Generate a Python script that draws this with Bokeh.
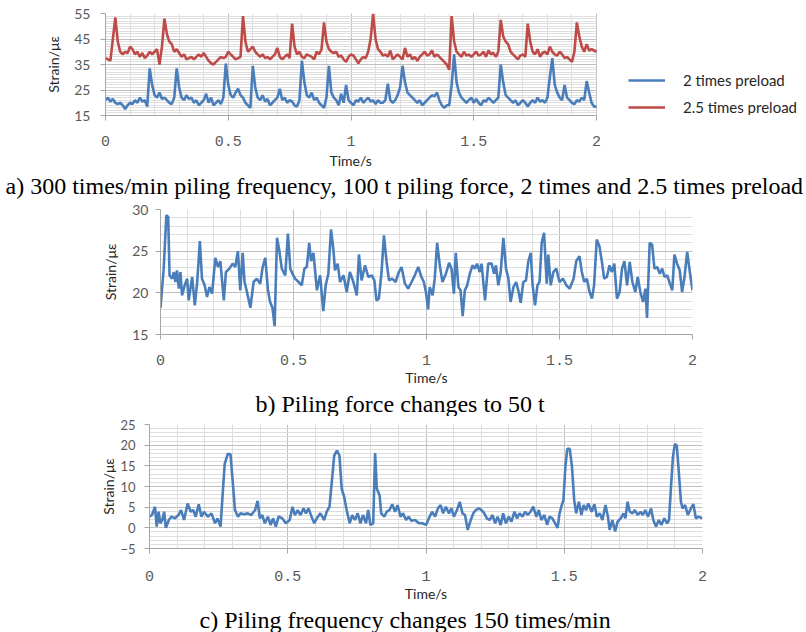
import numpy as np
from bokeh.plotting import figure
from bokeh.models import Range1d, FixedTicker, Title, Legend, LegendItem, BoxAnnotation
from bokeh.embed import file_html
from bokeh.resources import INLINE

# ---------------- data ----------------
time_a = np.round(np.linspace(0, 2, 201), 2)

strain_2x_preload = [
    21, 22, 20.5, 21.5, 20, 19.5, 20, 19, 17.5, 19,
    20, 19.5, 21, 20, 22, 20.5, 21, 18.5, 33.5, 27,
    23, 22, 24, 21.5, 22, 21, 20, 19.5, 22, 33.5,
    26, 22, 21, 23, 21.5, 22, 20, 21, 19, 20,
    21, 23.5, 20, 22, 19, 20, 21, 19.5, 22, 35.4,
    27, 23, 22, 24, 25.5, 23, 22, 20, 19, 18,
    34.5, 26, 22, 21, 23, 20.5, 21.5, 19, 20, 21,
    22, 25.5, 21, 22, 20, 21, 20.5, 19, 18.5, 21,
    36.5, 28, 23, 22, 24, 21, 22, 20, 19, 18,
    22, 34.5, 24, 22, 21, 19, 23.5, 20, 27, 21,
    20, 19, 21, 20.5, 22, 20, 21, 22, 20.5, 21,
    19.5, 21, 20, 20, 21, 27.5, 21, 20, 21, 23,
    26, 34.5, 28, 24, 23, 22, 21, 20, 21, 19,
    20, 21, 22, 23, 22.5, 24, 21, 19, 18, 19,
    19, 27, 39, 28, 24, 22, 21, 20, 21, 22,
    20, 21.5, 20, 19, 21, 20.5, 22, 21, 20, 21,
    22, 35, 28, 23, 22, 21, 20, 21, 19, 20,
    21, 20, 18.5, 20, 21, 20, 22, 20.5, 21, 20,
    22, 30, 37.5, 27, 24, 22, 21, 27, 22, 21,
    20, 19.5, 21, 20.5, 22, 21, 28.5, 24, 20, 18.5, 18.5,
]

strain_25x_preload = [
    37.5, 37, 36.5, 45, 53.5, 44, 40, 39, 40, 39.5,
    42, 41, 39, 40, 38, 39.5, 37.5, 38.5, 40, 39,
    40, 41, 35, 42, 53, 47, 44, 43, 40, 41,
    39.5, 38, 39, 37, 37.5, 38, 37, 38, 39, 38,
    39.5, 38, 36.5, 35.5, 35, 36, 37, 38, 37.5, 38,
    40, 39, 38, 37, 37.5, 38, 54, 44, 40, 41,
    42, 40, 39, 38, 39, 37.5, 38, 37, 38, 39,
    41.5, 38, 37, 38, 39, 37.5, 51, 42, 39, 40,
    38, 37.5, 39, 38.5, 38, 37, 40, 39, 41, 51.5,
    44, 41, 40, 39.5, 40, 38, 38.5, 37, 36, 38,
    39, 38.5, 37, 35.5, 37, 38, 37.5, 40, 45, 55,
    45, 41, 40, 38.5, 39, 38, 40.5, 37, 38, 39,
    38, 37, 41.5, 38, 39, 37, 38, 36.5, 38, 39,
    40, 38.5, 39, 40.5, 38, 39, 38, 37, 36, 35,
    33, 54, 44, 40, 39, 38, 40, 38.5, 39, 38,
    39, 40, 38.5, 39, 40, 38, 40.5, 39, 39.5, 38,
    40, 52.5, 46, 44, 43, 40, 39, 38, 37, 38.5,
    39, 38, 51, 44, 40, 39, 41, 38, 39.5, 40,
    39, 42, 40, 39, 38.5, 40, 39, 37.5, 38, 37,
    36, 40, 51.5, 46, 42, 40, 43, 40.5, 41, 40.5, 40,
]

time_b = [
    0.000, 0.012, 0.022, 0.029, 0.034, 0.044, 0.050, 0.056, 0.062, 0.069,
    0.075, 0.081, 0.091, 0.100, 0.106, 0.119, 0.129, 0.138, 0.148, 0.156,
    0.166, 0.175, 0.184, 0.194, 0.206, 0.216, 0.225, 0.238, 0.246, 0.259,
    0.271, 0.281, 0.291, 0.300, 0.309, 0.316, 0.325, 0.338, 0.350, 0.362,
    0.375, 0.384, 0.394, 0.404, 0.412, 0.421, 0.429, 0.438, 0.446, 0.456,
    0.469, 0.479, 0.488, 0.496, 0.506, 0.519, 0.531, 0.541, 0.550, 0.559,
    0.566, 0.575, 0.588, 0.600, 0.612, 0.621, 0.631, 0.641, 0.650, 0.656,
    0.666, 0.675, 0.688, 0.700, 0.712, 0.725, 0.738, 0.746, 0.756, 0.769,
    0.781, 0.794, 0.804, 0.812, 0.821, 0.831, 0.840, 0.850, 0.859, 0.871,
    0.884, 0.896, 0.906, 0.919, 0.931, 0.944, 0.956, 0.969, 0.981, 0.990,
    0.998, 1.006, 1.012, 1.023, 1.031, 1.040, 1.050, 1.060, 1.073, 1.085,
    1.094, 1.103, 1.110, 1.120, 1.128, 1.136, 1.144, 1.153, 1.163, 1.173,
    1.182, 1.190, 1.200, 1.207, 1.220, 1.232, 1.245, 1.254, 1.261, 1.270,
    1.279, 1.289, 1.299, 1.308, 1.316, 1.327, 1.337, 1.345, 1.354, 1.364,
    1.374, 1.383, 1.392, 1.399, 1.408, 1.417, 1.425, 1.433, 1.442, 1.452,
    1.458, 1.467, 1.477, 1.488, 1.500, 1.513, 1.526, 1.538, 1.553, 1.563,
    1.575, 1.584, 1.593, 1.603, 1.613, 1.622, 1.630, 1.640, 1.650, 1.659,
    1.668, 1.678, 1.688, 1.697, 1.706, 1.716, 1.726, 1.735, 1.744, 1.754,
    1.764, 1.774, 1.785, 1.794, 1.804, 1.814, 1.823, 1.829, 1.839, 1.848,
    1.857, 1.867, 1.877, 1.886, 1.895, 1.905, 1.915, 1.924, 1.932, 1.942,
    1.952, 1.961, 1.970, 1.980, 1.990, 2.000,
]

strain_b = [
    18.2, 22.9, 29.3, 29.1, 22.1, 21.7, 22.5, 21.3, 22.7, 20.5,
    22.5, 19.7, 20.9, 21.7, 19.1, 21.9, 18.5, 21.3, 26.2, 21.7,
    20.9, 19.5, 20.7, 19.9, 24.2, 23.1, 23.8, 19.1, 22.5, 22.9,
    23.5, 23.1, 25.0, 20.3, 24.8, 21.3, 20.1, 18.2, 21.3, 21.7,
    21.1, 23.1, 24.2, 20.3, 18.9, 18.2, 16.0, 26.6, 25.2, 22.9,
    22.1, 27.1, 22.9, 22.3, 21.7, 21.3, 20.9, 22.9, 23.1, 26.0,
    23.8, 24.8, 20.3, 22.1, 17.8, 20.9, 22.3, 27.6, 25.2, 22.7,
    23.5, 21.3, 22.1, 20.1, 22.5, 21.3, 19.7, 24.6, 21.5, 23.3,
    21.9, 22.1, 21.5, 19.1, 19.3, 22.5, 26.9, 23.7, 21.5, 21.7,
    21.3, 22.5, 23.1, 21.1, 20.5, 21.3, 22.1, 23.1, 21.9, 21.3,
    20.1, 18.0, 20.7, 19.7, 21.7, 26.0, 23.3, 21.3, 22.3, 23.6,
    22.9, 19.9, 24.8, 20.7, 20.3, 17.2, 20.3, 20.9, 22.3, 23.3,
    22.9, 23.5, 22.5, 23.5, 19.1, 23.5, 23.5, 22.3, 23.3, 20.9,
    22.5, 26.6, 22.9, 21.7, 18.9, 20.7, 21.3, 20.3, 18.8, 21.3,
    21.5, 23.8, 24.8, 20.9, 18.5, 20.9, 21.3, 26.0, 27.2, 21.1,
    24.6, 20.9, 22.5, 22.9, 21.3, 21.7, 20.9, 20.5, 21.7, 23.8,
    24.4, 22.5, 21.3, 21.7, 20.1, 19.3, 20.9, 26.4, 25.6, 23.8,
    21.7, 21.9, 23.3, 22.5, 23.5, 19.3, 20.1, 22.9, 23.8, 20.9,
    23.7, 21.3, 20.1, 21.9, 20.1, 18.9, 20.5, 17.0, 26.0, 25.8,
    22.9, 23.1, 22.3, 22.9, 21.9, 22.1, 21.1, 20.3, 24.6, 23.5,
    22.7, 20.1, 21.9, 24.9, 22.5, 20.3,
]

time_c = [
    0.000, 0.009, 0.020, 0.026, 0.033, 0.039, 0.046, 0.053, 0.059, 0.070,
    0.079, 0.092, 0.105, 0.114, 0.125, 0.138, 0.149, 0.158, 0.167, 0.178,
    0.188, 0.197, 0.211, 0.224, 0.237, 0.246, 0.257, 0.264, 0.272, 0.283,
    0.293, 0.303, 0.309, 0.320, 0.329, 0.342, 0.355, 0.368, 0.382, 0.391,
    0.399, 0.408, 0.417, 0.428, 0.438, 0.447, 0.457, 0.467, 0.480, 0.493,
    0.507, 0.517, 0.526, 0.536, 0.546, 0.557, 0.566, 0.575, 0.586, 0.596,
    0.605, 0.618, 0.632, 0.641, 0.651, 0.661, 0.668, 0.678, 0.687, 0.695,
    0.704, 0.713, 0.724, 0.733, 0.743, 0.753, 0.763, 0.772, 0.783, 0.791,
    0.799, 0.809, 0.816, 0.822, 0.832, 0.838, 0.849, 0.858, 0.868, 0.878,
    0.888, 0.897, 0.908, 0.917, 0.928, 0.937, 0.947, 0.961, 0.974, 0.987,
    1.000, 1.013, 1.022, 1.033, 1.043, 1.053, 1.062, 1.072, 1.083, 1.092,
    1.101, 1.112, 1.122, 1.132, 1.141, 1.151, 1.162, 1.171, 1.180, 1.191,
    1.201, 1.211, 1.220, 1.230, 1.241, 1.250, 1.259, 1.270, 1.279, 1.289,
    1.299, 1.309, 1.320, 1.329, 1.338, 1.349, 1.359, 1.368, 1.378, 1.388,
    1.399, 1.408, 1.417, 1.428, 1.438, 1.447, 1.457, 1.467, 1.476, 1.483,
    1.491, 1.497, 1.504, 1.511, 1.520, 1.528, 1.536, 1.543, 1.553, 1.562,
    1.570, 1.579, 1.587, 1.599, 1.609, 1.618, 1.628, 1.638, 1.649, 1.658,
    1.664, 1.674, 1.684, 1.693, 1.704, 1.714, 1.721, 1.729, 1.737, 1.747,
    1.755, 1.766, 1.776, 1.784, 1.793, 1.803, 1.814, 1.822, 1.832, 1.842,
    1.851, 1.862, 1.872, 1.879, 1.886, 1.893, 1.900, 1.907, 1.913, 1.922,
    1.928, 1.937, 1.947, 1.958, 1.967, 1.976, 1.986, 2.000,
]

strain_c = [
    2.7, 3.1, 5.1, 0.3, 3.9, 1.1, 1.9, 3.9, 0.0, 1.9,
    2.7, 2.3, 3.1, 4.3, 1.9, 5.9, 3.9, 4.3, 2.7, 5.7,
    2.7, 3.9, 2.7, 3.5, 1.1, 2.3, 0.3, 7.5, 15.5, 17.9,
    17.8, 9.5, 4.3, 2.7, 3.5, 3.3, 3.5, 3.1, 4.3, 6.5,
    2.3, 3.1, 1.1, 2.7, 0.7, 2.3, 0.3, 2.8, 2.3, 1.1,
    1.9, 5.1, 3.1, 4.3, 3.1, 4.7, 3.5, 4.7, 2.7, 1.1,
    2.3, 3.5, 1.9, 3.9, 5.1, 12.3, 17.5, 18.7, 17.5, 9.5,
    7.5, 4.3, 1.1, 3.1, 1.9, 3.5, 1.1, 3.1, 1.1, 4.3,
    0.7, 1.1, 18.1, 9.5, 7.9, 3.5, 2.7, 3.9, 4.3, 5.7,
    3.9, 5.5, 2.7, 3.5, 1.9, 2.7, 1.7, 1.9, 1.1, 1.1,
    0.7, 2.7, 3.9, 2.7, 4.7, 5.5, 3.5, 5.1, 3.5, 4.7,
    2.7, 4.3, 6.3, 3.5, 3.1, -0.5, 1.9, 3.5, 4.3, 4.7,
    4.3, 3.5, 2.3, 1.9, 3.1, 1.1, 2.7, 0.7, 3.5, 1.1,
    2.7, 1.5, 3.9, 2.3, 3.5, 2.7, 3.9, 3.1, 3.9, 5.1,
    2.7, 4.3, 1.9, 3.1, 0.7, 2.7, 2.3, 1.1, 0.0, 3.5,
    5.5, 6.7, 14.7, 19.1, 19.1, 14.7, 6.7, 3.5, 6.3, 3.1,
    5.5, 4.3, 5.9, 3.9, 5.7, 2.7, 3.5, 1.9, 5.5, 2.7,
    -0.5, 1.9, -0.9, 1.5, 2.3, 3.5, 2.3, 6.3, 3.9, 3.5,
    4.3, 3.1, 3.9, 3.1, 4.3, 2.7, 4.7, 1.9, 0.3, 1.9,
    0.7, 2.3, 1.1, 1.9, 9.9, 17.1, 20.3, 19.9, 14.7, 6.3,
    4.7, 5.5, 3.1, 4.7, 5.7, 2.3, 2.7, 2.3,
]

x_major = [0, 0.5, 1, 1.5, 2]
x_minor = [i / 10 for i in range(21)]
y_major_a = [15, 25, 35, 45, 55]
y_major_b = [15, 20, 25, 30]
y_major_c = [-5, 0, 5, 10, 15, 20, 25]

x_title = "Time/s"
y_title = "Strain/με"
caption_a = "a) 300 times/min piling frequency, 100 t piling force, 2 times and 2.5 times preload"
caption_b = "b) Piling force changes to 50 t"
caption_c = "c) Piling frequency changes 150 times/min"
legend_labels = ["2 times preload", "2.5 times preload"]

BLUE = "#4a7ebb"
RED = "#be4b48"
SANS = "Lato"
MONO = "Liberation Mono"
SERIF = "Liberation Serif"


def make_fig(height, left, right, top, bottom, xr, yr, ymaj, xstand, xlab_stand,
             ystand, ylab_stand, ytick_size="14px", with_xlabel=True):
    p = figure(width=806, height=height, output_backend="svg", toolbar_location=None,
               x_range=Range1d(*xr), y_range=Range1d(*yr))
    p.min_border = 0
    p.min_border_left = left
    p.min_border_right = right
    p.min_border_top = top
    p.min_border_bottom = bottom
    p.outline_line_color = None
    p.background_fill_color = "white"
    p.border_fill_color = "white"

    ymin = [v for v in range(yr[0], yr[1] + 1)]
    p.xaxis.ticker = FixedTicker(ticks=x_major, minor_ticks=x_minor)
    p.yaxis.ticker = FixedTicker(ticks=ymaj, minor_ticks=ymin)
    p.xaxis.bounds = (0, 2)

    for ax in (p.xaxis, p.yaxis):
        ax.axis_line_color = "#a6a6a6"
        ax.major_tick_line_color = "#a6a6a6"
        ax.major_tick_out = 5
        ax.major_tick_in = 0
        ax.minor_tick_out = 0
        ax.minor_tick_in = 0
        ax.major_label_text_color = "#595959"
        ax.axis_label_text_color = "#262626"
        ax.axis_label_text_font_style = "normal"

    p.xaxis.major_label_text_font = MONO
    p.xaxis.major_label_text_font_size = "15px"
    p.xaxis.major_label_standoff = xstand
    if with_xlabel:
        p.xaxis.axis_label = x_title
        p.xaxis.axis_label_text_font = SANS
        p.xaxis.axis_label_text_font_size = "14px"
        p.xaxis.axis_label_standoff = xlab_stand

    p.yaxis.major_label_text_font = SANS
    p.yaxis.major_label_text_font_size = ytick_size
    p.yaxis.major_label_standoff = ystand
    p.yaxis.axis_label = y_title
    p.yaxis.axis_label_text_font = SANS
    p.yaxis.axis_label_text_font_size = "14px"
    p.yaxis.axis_label_standoff = ylab_stand

    for g in (p.xgrid, p.ygrid):
        g.grid_line_color = "#bfbfbf"
        g.grid_line_width = 1
        g.minor_grid_line_color = "#dedede"
        g.minor_grid_line_width = 1
    return p


def caption(text, offset, standoff):
    return Title(text=text, align="left", offset=offset, standoff=standoff,
                 text_font=SERIF, text_font_size="24px", text_font_style="normal",
                 text_color="black")


# chart a : plot area x 105..596 (0..2), the frame runs on to x=800 to hold the legend
x_end_a = 2 * (800 - 105) / 491
pa = make_fig(200, 105, 6, 13, 85, (0, x_end_a), (15, 55), y_major_a, 15, 4, 10, 9,
              with_xlabel=False)
try:
    pa.ygrid.cross_bounds = (0, 2)
except AttributeError:
    pa.add_layout(BoxAnnotation(left=2.005, fill_color="white", fill_alpha=1,
                                line_color=None, level="underlay"))
ra1 = pa.line(time_a, strain_2x_preload, line_color=BLUE, line_width=2.6)
ra2 = pa.line(time_a, strain_25x_preload, line_color=RED, line_width=2.6)
lg = Legend(items=[LegendItem(label=legend_labels[0], renderers=[ra1]),
                   LegendItem(label=legend_labels[1], renderers=[ra2])],
            location=(523, -2), border_line_color=None, background_fill_alpha=0,
            padding=0, margin=0, spacing=7, glyph_width=37, glyph_height=20,
            label_height=20, label_standoff=18, label_text_font=SANS,
            label_text_font_size="15px", label_text_color="#262626")
pa.add_layout(lg, "center")
# x-axis title of chart a, centred under the 0..2 span (the frame is wider)
pa.add_layout(Title(text=x_title, align="left", offset=224, standoff=3,
                    text_font=SANS, text_font_size="14px", text_font_style="normal",
                    text_color="#262626"), "below")
pa.add_layout(caption(caption_a, -100, 1), "below")

# chart b : frame x 160..692, y 209..337 (figure spans y 200..416)
pb = make_fig(216, 160, 114, 9, 79, (0, 2), (15, 30), y_major_b, 15, 1, 7, 10)
pb.add_layout(caption(caption_b, 95, 0), "below")
pb.line(time_b, strain_b, line_color=BLUE, line_width=2.6)

# chart c : frame x 149..702, y 424..550 (figure spans y 416..632)
pc = make_fig(216, 149, 104, 8, 82, (0, 2), (-5, 25), y_major_c, 17, 1, 9, 0, "13px")
pc.add_layout(caption(caption_c, 50, 0), "below")
pc.line(time_c, strain_c, line_color=BLUE, line_width=2.6)

open("out.html", "w").write(file_html([pa, pb, pc], INLINE))
